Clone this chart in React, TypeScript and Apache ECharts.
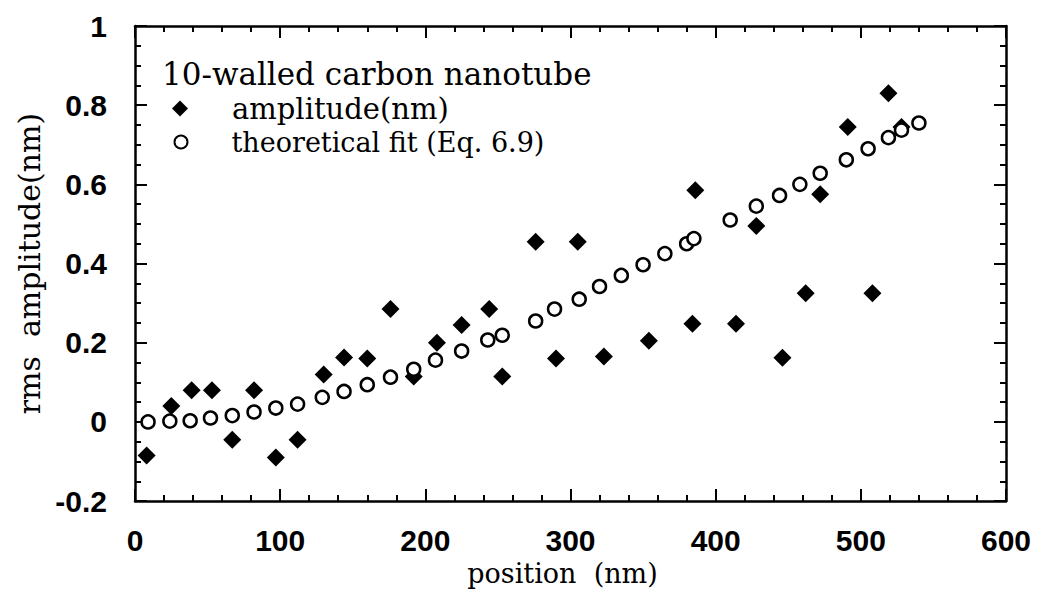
import React, { useEffect, useRef } from "react";
import * as echarts from "echarts";

const ampX = [8, 25, 39, 53, 67, 82, 97, 112, 130, 144, 160, 176, 192, 208, 225, 244, 253, 276, 290, 305, 323, 354, 384, 386, 414, 428, 446, 462, 472, 491, 508, 519, 528];
const ampY = [-0.085, 0.04, 0.08, 0.08, -0.045, 0.08, -0.09, -0.045, 0.12, 0.163, 0.16, 0.285, 0.115, 0.2, 0.245, 0.285, 0.115, 0.455, 0.16, 0.455, 0.165, 0.205, 0.248, 0.585, 0.248, 0.495, 0.162, 0.325, 0.575, 0.745, 0.325, 0.83, 0.745];

const fitX = [9, 24, 38, 52, 67, 82, 97, 112, 129, 144, 160, 176, 192, 207, 225, 243, 253, 276, 289, 306, 320, 335, 350, 365, 380, 385, 410, 428, 444, 458, 472, 490, 505, 519, 528, 540];
const fitY = [0, 0.002, 0.003, 0.01, 0.016, 0.025, 0.035, 0.045, 0.062, 0.077, 0.094, 0.113, 0.133, 0.156, 0.179, 0.207, 0.219, 0.255, 0.285, 0.31, 0.342, 0.37, 0.397, 0.425, 0.45, 0.463, 0.51, 0.545, 0.572, 0.6, 0.628, 0.662, 0.69, 0.718, 0.737, 0.755];

const titleText = "10-walled carbon nanotube";
const ampName = "amplitude(nm)";
const fitName = "theoretical fit (Eq. 6.9)";
const xName = "position  (nm)";
const yName = "rms  amplitude(nm)";

const SERIF = "'DejaVu Serif', serif";
const SANS = "'Liberation Sans', Arial, sans-serif";

function axisCommon() {
  return {
    axisLine: { show: true, onZero: false, lineStyle: { color: "#000", width: 2.5 } },
    axisTick: { show: true, inside: true, length: 12, lineStyle: { color: "#000", width: 2 } },
    splitLine: { show: false },
  };
}

export default function App() {
  const ref = useRef<HTMLDivElement>(null);
  useEffect(() => {
    if (!ref.current) return;
    const chart = echarts.init(ref.current, null, { renderer: "svg" });
    const labelStyle = { color: "#000", fontFamily: SANS, fontSize: 30, fontWeight: "bold" };
    chart.setOption({
      animation: false,
      backgroundColor: "#fff",
      title: {
        text: titleText,
        left: 162,
        top: 58,
        padding: 0,
        textStyle: { fontFamily: SERIF, fontSize: 31, fontWeight: "normal", color: "#000" },
      },
      legend: [
        {
          data: [ampName],
          orient: "vertical",
          left: 172,
          top: 94,
          padding: 0,
          itemWidth: 16,
          itemHeight: 16,
          textStyle: { fontFamily: SERIF, fontSize: 29, color: "#000", padding: [0, 0, 0, 39] },
        },
        {
          data: [fitName],
          orient: "vertical",
          left: 173.5,
          top: 128.5,
          padding: 0,
          itemWidth: 13,
          itemHeight: 13,
          textStyle: { fontFamily: SERIF, fontSize: 27, color: "#000", padding: [0, 0, 0, 39] },
        },
      ],
      grid: { left: 135, right: 32, top: 26, bottom: 85, containLabel: false },
      xAxis: [
        {
          type: "value",
          min: 0,
          max: 600,
          interval: 100,
          position: "bottom",
          ...axisCommon(),
          minorTick: { show: true, splitNumber: 5, length: 6, lineStyle: { color: "#000", width: 2 } },
          axisLabel: { ...labelStyle, margin: 24 },
          name: xName,
          nameLocation: "middle",
          nameGap: 52,
          nameTextStyle: { fontFamily: SERIF, fontSize: 27, color: "#000", padding: [0, 16, 0, 0] },
        },
        {
          type: "value",
          min: 0,
          max: 600,
          interval: 100,
          position: "top",
          ...axisCommon(),
          minorTick: { show: true, splitNumber: 5, length: 6, lineStyle: { color: "#000", width: 2 } },
          axisLabel: { show: false },
        },
      ],
      yAxis: [
        {
          type: "value",
          min: -0.2,
          max: 1,
          interval: 0.2,
          position: "left",
          ...axisCommon(),
          minorTick: { show: true, splitNumber: 4, length: 6, lineStyle: { color: "#000", width: 2 } },
          axisLabel: { ...labelStyle, margin: 28 },
          name: yName,
          nameLocation: "middle",
          nameGap: 90,
          nameTextStyle: { fontFamily: SERIF, fontSize: 30, color: "#000" },
        },
        {
          type: "value",
          min: -0.2,
          max: 1,
          interval: 0.2,
          position: "right",
          ...axisCommon(),
          minorTick: { show: true, splitNumber: 4, length: 6, lineStyle: { color: "#000", width: 2 } },
          axisLabel: { show: false },
        },
      ],
      series: [
        {
          name: ampName,
          type: "scatter",
          symbol: "diamond",
          symbolSize: 18,
          itemStyle: { color: "#000", opacity: 1 },
          data: ampX.map((x, i) => [x, ampY[i]]),
          z: 2,
        },
        {
          name: fitName,
          type: "scatter",
          symbol: "circle",
          symbolSize: 13,
          itemStyle: { color: "#fff", borderColor: "#000", borderWidth: 2.5, opacity: 1 },
          data: fitX.map((x, i) => [x, fitY[i]]),
          z: 3,
        },
      ],
    });
    return () => chart.dispose();
  }, []);
  return (
    <div
      ref={ref}
      style={{ position: "absolute", left: 0, top: 0, width: 1038, height: 592, background: "#fff" }}
    />
  );
}
